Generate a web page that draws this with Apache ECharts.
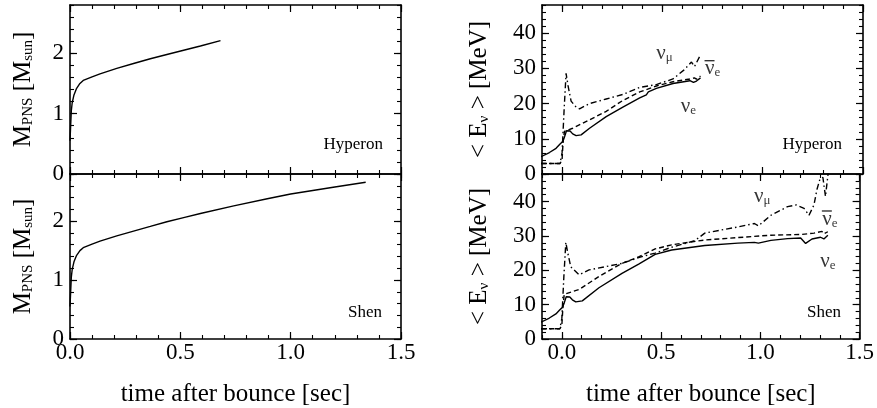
<!DOCTYPE html>
<html>
<head>
<meta charset="utf-8">
<script src="https://cdn.jsdelivr.net/npm/echarts@6/dist/echarts.min.js"></script>
<style>html,body{margin:0;padding:0;background:#fff}#main{width:877px;height:408px}</style>
</head>
<body>
<div id="main"></div>
<script>
// 质量 (左列)
var hypMass = [[0,0.55],[0.003,0.8],[0.006,1.05],[0.01,1.18],[0.018,1.31],[0.03,1.42],[0.045,1.5],[0.06,1.55],[0.1,1.61],[0.136,1.66],[0.212,1.75],[0.288,1.83],[0.364,1.91],[0.439,1.98],[0.515,2.05],[0.591,2.12],[0.682,2.21]];
var shenMass = [[0,0.55],[0.003,0.8],[0.006,1.05],[0.01,1.18],[0.018,1.31],[0.03,1.42],[0.045,1.5],[0.06,1.55],[0.1,1.61],[0.136,1.66],[0.212,1.75],[0.288,1.83],[0.364,1.91],[0.439,1.99],[0.515,2.06],[0.591,2.13],[0.742,2.26],[0.894,2.38],[1.0,2.46],[1.1,2.52],[1.2,2.58],[1.34,2.66]];

// 平均能量 (右列)
var hypNue = [[-0.105,4.9],[-0.063,6.1],[-0.03,7.3],[-0.01,8.5],[0.003,9.2],[0.012,10.5],[0.022,12.3],[0.028,12.8],[0.04,12.2],[0.053,11.4],[0.07,10.9],[0.095,11.1],[0.137,13.0],[0.22,16.3],[0.303,19.0],[0.387,21.6],[0.42,22.5],[0.43,23.3],[0.47,24.3],[0.553,25.7],[0.637,26.5],[0.645,26.6],[0.655,26.0],[0.67,26.4],[0.69,27.3]];
var hypNuebar = [[-0.105,3.0],[-0.01,3.0],[0.0,4],[0.005,9],[0.012,12.1],[0.053,13.0],[0.137,15.4],[0.22,17.8],[0.303,20.9],[0.387,23.3],[0.47,25.0],[0.553,26.2],[0.637,27.0],[0.66,27.3],[0.67,26.9],[0.69,27.8]];
var hypNumu = [[-0.105,3.0],[-0.01,3.0],[0.0,6],[0.01,18],[0.02,28.6],[0.03,25],[0.045,20.7],[0.07,19],[0.087,18.5],[0.137,20.0],[0.22,21.3],[0.303,22.6],[0.387,24.6],[0.47,25.4],[0.553,27.0],[0.607,29.5],[0.645,31.8],[0.66,30.5],[0.687,33.5]];
var shenNue = [[-0.105,4.9],[-0.063,6.1],[-0.03,7.3],[-0.01,8.5],[0.003,9.2],[0.012,10.5],[0.022,12.3],[0.028,12.8],[0.04,12.2],[0.053,11.4],[0.07,10.8],[0.103,11.1],[0.187,14.9],[0.303,19.1],[0.387,21.8],[0.47,24.6],[0.553,25.9],[0.72,27.2],[0.887,27.9],[0.97,28.1],[0.978,27.7],[0.99,27.9],[1.053,28.7],[1.137,29.2],[1.203,29.4],[1.228,27.8],[1.26,29.1],[1.303,29.6],[1.32,29.1],[1.34,30.2]];
var shenNuebar = [[-0.105,3.0],[-0.01,3.0],[0.0,4],[0.005,9],[0.012,13.0],[0.087,14.4],[0.187,18.2],[0.303,22.0],[0.387,23.9],[0.47,26.2],[0.553,27.4],[0.72,28.8],[0.887,29.5],[1.053,30.2],[1.203,30.4],[1.27,30.8],[1.31,31.3],[1.32,30.6],[1.34,31.2]];
var shenNumu = [[-0.105,3.0],[-0.01,3.0],[0.0,6],[0.01,18],[0.02,28.1],[0.03,25],[0.045,21],[0.087,18.7],[0.137,20.1],[0.303,22.0],[0.387,23.7],[0.47,25.0],[0.553,26.7],[0.67,28.6],[0.72,30.8],[0.82,31.9],[0.887,32.6],[0.97,33.6],[0.99,32.9],[1.053,36.0],[1.137,38.5],[1.18,39.0],[1.22,38.0],[1.245,36.0],[1.255,35.5],[1.27,39.0],[1.285,43.5],[1.30,46.5],[1.315,47.0],[1.322,44.0],[1.328,41.5],[1.335,45.0],[1.345,50.0]];

// 曲线标注 (ν̄e 用一条短横线当上划线)
var nuNames = ['{n|ν}{s|μ}', '{bar| }{gap| }\n{n2|ν}{s2|e}', '{n|ν}{s|e}'];
var hypNuPos = [[0.51, 35.0], [0.75, 30.0], [0.63, 19.8]];
var shenNuPos = [[1.01, 42.3], [1.35, 35.0], [1.34, 23.3]];

// 刻度
var massTicks = [0, 1, 2];
var energyTicks = [0, 10, 20, 30, 40];
var timeTicks = [0, 0.5, 1.0, 1.5];

var font = 'Liberation Serif';

function steps(a, b, d) {
    var r = [];
    for (var v = a; v <= b + 1e-9; v += d) {
        r.push(Math.round(v * 1000) / 1000);
    }
    return r;
}

var massMinor = steps(0, 2.8, 0.2);
var energyMinor = steps(0, 48, 2);
var timeMinorL = steps(0, 1.5, 0.1);
var timeMinorR = steps(-0.1, 1.5, 0.1);

var nameStyle = {
    color: '#000', fontFamily: font, fontSize: 24,
    rich: {
        a: { fontFamily: font, fontSize: 25, color: '#000', verticalAlign: 'bottom', lineHeight: 30 },
        s: { fontFamily: font, fontSize: 15, color: '#000', verticalAlign: 'bottom', lineHeight: 30 }
    }
};

// 每个面板四边: 主刻度 + 次刻度
function axisSet(dim, grid, min, max, major, minor, showLabel, name, nameGap, fmt) {
    var sides = dim === 'x' ? ['bottom', 'top'] : ['left', 'right'];
    var out = [];
    sides.forEach(function (side, k) {
        out.push({
            type: 'value', gridIndex: grid, position: side, min: min, max: max,
            axisLine: { show: true, onZero: false, lineStyle: { color: '#000', width: 1.6 } },
            axisTick: { show: true, inside: true, length: 7, customValues: major, lineStyle: { color: '#000', width: 1.2 } },
            axisLabel: {
                show: k === 0 && showLabel, customValues: major, color: '#000',
                fontFamily: font, fontSize: 23, margin: dim === 'x' ? 2 : 6, formatter: fmt
            },
            splitLine: { show: false },
            name: k === 0 ? name : '',
            nameLocation: 'middle',
            nameGap: nameGap,
            nameRotate: dim === 'y' ? 90 : 0,
            nameTextStyle: nameStyle
        });
        out.push({
            type: 'value', gridIndex: grid, position: side, min: min, max: max,
            axisLine: { show: false, onZero: false },
            axisTick: { show: true, inside: true, length: 4, customValues: minor, lineStyle: { color: '#000', width: 1.1 } },
            axisLabel: { show: false },
            splitLine: { show: false }
        });
    });
    return out;
}

var fmtT = function (v) { return v.toFixed(1); };
var fmtI = function (v) { return String(v); };
var massName = '{a|M}{s|PNS}{a| [M}{s|sun}{a|]}';
var eName = '{a|< E}{s|ν}{a| > [MeV]}';
var timeName = '{a|time after bounce [sec]}';

var grids = [
    { left: 70, top: 5, width: 331, height: 169 },
    { left: 70, top: 174, width: 331, height: 170 },
    { left: 542, top: 5, width: 321, height: 169 },
    { left: 542, top: 174, width: 321, height: 170 }
];

var xAxes = [].concat(
    axisSet('x', 0, 0, 1.5, timeTicks, timeMinorL, false, '', 0, fmtT),
    axisSet('x', 1, 0, 1.5, timeTicks, timeMinorL, true, timeName, 38, fmtT),
    axisSet('x', 2, -0.1, 1.5, timeTicks, timeMinorR, false, '', 0, fmtT),
    axisSet('x', 3, -0.1, 1.5, timeTicks, timeMinorR, true, timeName, 38, fmtT)
);
var yAxes = [].concat(
    axisSet('y', 0, 0, 2.8, massTicks, massMinor, true, massName, 34, fmtI),
    axisSet('y', 1, 0, 2.8, massTicks, massMinor, true, massName, 34, fmtI),
    axisSet('y', 2, 0, 48, energyTicks, energyMinor, true, eName, 50, fmtI),
    axisSet('y', 3, 0, 48, energyTicks, energyMinor, true, eName, 50, fmtI)
);

function line(grid, data, type) {
    return {
        type: 'line', xAxisIndex: grid * 4, yAxisIndex: grid * 4,
        data: data, showSymbol: false, symbol: 'none', smooth: false,
        lineStyle: { color: '#000', width: 1.4, type: type },
        z: 3, silent: true
    };
}

function nuLabels(grid, pos) {
    return {
        type: 'scatter', xAxisIndex: grid * 4, yAxisIndex: grid * 4,
        symbolSize: 0, silent: true,
        data: pos.map(function (p, i) { return { value: p, name: nuNames[i] }; }),
        label: {
            show: true, position: 'inside', formatter: function (p) { return p.name; },
            rich: {
                n: { fontFamily: font, fontSize: 21, color: '#000', verticalAlign: 'bottom', lineHeight: 26 },
                s: { fontFamily: font, fontSize: 13, color: '#000', verticalAlign: 'bottom', lineHeight: 26 },
                bar: { width: 10, height: 1.4, lineHeight: 4, fontSize: 1, backgroundColor: '#000', verticalAlign: 'bottom' },
                gap: { width: 6, height: 1.4, lineHeight: 4, fontSize: 1, verticalAlign: 'bottom' },
                n2: { fontFamily: font, fontSize: 21, color: '#000', verticalAlign: 'bottom', lineHeight: 18 },
                s2: { fontFamily: font, fontSize: 13, color: '#000', verticalAlign: 'bottom', lineHeight: 18 }
            }
        }
    };
}

var dashDot = [6, 3, 1.5, 3];
var dashed = [5, 3];

var option = {
    backgroundColor: '#fff',
    animation: false,
    grid: grids,
    xAxis: xAxes,
    yAxis: yAxes,
    graphic: [
        { type: 'text', right: 877 - 383, top: 136, style: { text: 'Hyperon', font: '17px "Liberation Serif"', fill: '#000' } },
        { type: 'text', right: 877 - 382, top: 304, style: { text: 'Shen', font: '17px "Liberation Serif"', fill: '#000' } },
        { type: 'text', right: 877 - 842, top: 136, style: { text: 'Hyperon', font: '17px "Liberation Serif"', fill: '#000' } },
        { type: 'text', right: 877 - 841, top: 304, style: { text: 'Shen', font: '17px "Liberation Serif"', fill: '#000' } }
    ],
    series: [
        line(0, hypMass, 'solid'),
        line(1, shenMass, 'solid'),
        line(2, hypNue, 'solid'),
        line(2, hypNuebar, dashed),
        line(2, hypNumu, dashDot),
        line(3, shenNue, 'solid'),
        line(3, shenNuebar, dashed),
        line(3, shenNumu, dashDot),
        nuLabels(2, hypNuPos),
        nuLabels(3, shenNuPos)
    ]
};

var myChart = echarts.init(document.getElementById('main'));
myChart.setOption(option);
</script>
</body>
</html>
